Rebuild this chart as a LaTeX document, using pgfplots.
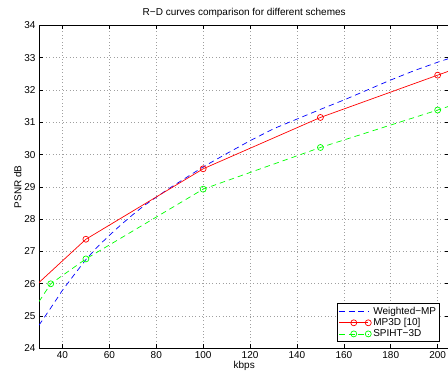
\documentclass[border=0pt]{standalone}
\usepackage{fontspec}
\setmainfont{Liberation Sans}
\usepackage{pgfplots}
\pgfplotsset{compat=1.18}
\begin{document}
\fontsize{10bp}{12bp}\selectfont
\begin{tikzpicture}[x=1bp,y=1bp]
\begin{axis}[
  at={(0,0)}, anchor=south west,
  scale only axis, width=410.4bp, height=323bp,
  xmin=30, xmax=205, ymin=24, ymax=34,
  xtick={40,60,...,200}, ytick={24,25,...,34},
  /pgf/number format/assume math mode=true,
  tick label style={font=\fontsize{10bp}{12bp}\selectfont},
  label style={font=\fontsize{10bp}{12bp}\selectfont},
  title style={font=\fontsize{10bp}{12bp}\selectfont, yshift=-2bp},
  title={R−D curves comparison for different schemes},
  xlabel={kbps}, ylabel={PSNR dB},
  xlabel style={yshift=5bp}, ylabel style={yshift=-4bp},
  grid=major, major grid style={dash pattern=on 0.8bp off 2.6bp, gray!75, line width=0.6bp},
  axis line style={line width=0.9bp},
  tick style={black, line width=0.6bp},
  major tick length=4bp,
  tick align=inside,
  legend style={at={(0.977,0.02)}, anchor=south east, draw=black, line width=0.6bp,
    font=\fontsize{10bp}{12bp}\selectfont, inner sep=1.5bp, row sep=-1.5bp,
    cells={anchor=west}},
  legend image code/.code={\draw[mark repeat=2,mark phase=2] plot coordinates {(0bp,0bp) (14.5bp,0bp) (29bp,0bp)};},
]
\addplot[color=blue, line width=0.7bp, dash pattern=on 5.5bp off 4bp, no markers] coordinates {
(30,24.72) (35,25.25) (40,25.80) (45,26.28) (50,26.75) (55,27.15) (60,27.50)
(65,27.83) (70,28.14) (75,28.43) (80,28.68) (85,28.93) (90,29.16) (95,29.39)
(100,29.62) (110,30.03) (120,30.43) (130,30.80) (140,31.10) (150,31.40)
(160,31.69) (170,32.00) (180,32.31) (190,32.60) (200,32.86) (205,32.98)};
\addlegendentry{Weighted−MP}
\addplot[color=red, line width=0.7bp, mark=o, mark size=3bp, mark indices={2,3,4,5}, mark options={solid}] coordinates {
(30,26.04) (50,27.38) (100,29.56) (150,31.15) (200,32.46) (205,32.59)};
\addlegendentry{MP3D [10]}
\addplot[color=green, line width=0.7bp, dash pattern=on 5.5bp off 4bp, mark=o, mark size=3bp, mark indices={2,3,4,5,6}, mark options={solid}] coordinates {
(30,25.45) (35,26.00) (50,26.77) (100,28.93) (150,30.22) (200,31.38) (205,31.50)};
\addlegendentry{SPIHT−3D}
\end{axis}
\pgfresetboundingbox
\path[use as bounding box] (-39bp,-25.6bp) rectangle (409bp,348.4bp);
\end{tikzpicture}
\end{document}
